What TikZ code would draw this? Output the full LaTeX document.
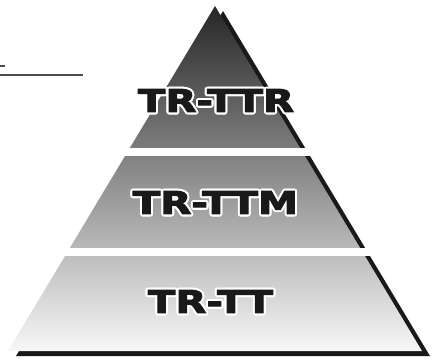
\documentclass[tikz,border=0pt]{standalone}
\usepackage{fontspec}
\usepackage{contour}
\newfontfamily\heavyfont[FakeStretch=1.3,FakeBold=3.5]{DejaVu Sans Bold}
\contourlength{2pt}
\contournumber{20}
\begin{document}
\begin{tikzpicture}[x=1pt,y=-1pt,
  shadowcol/.style={fill=black!90},
  tierlabel/.style={font=\heavyfont\fontsize{31}{31}\selectfont, text=black!90, inner sep=0pt},
  gapband/.style={fill=white},
  rulel/.style={draw=black!70, line width=1.4pt}]
\useasboundingbox (0,0) rectangle (432,360);
% stray rules at top left
\draw[rulel] (0,66) -- (5,66);
\draw[rulel] (0,75) -- (83,75);
% shadow
\fill[shadowcol] (223,11) -- (16,356) -- (430,356) -- cycle;
% main pyramid with gradient
\shade[top color=black!85, bottom color=black!3] (215,6) -- (8,351) -- (422,351) -- cycle;
% white gaps between tiers
\fill[gapband] (0,148.3) rectangle (432,155.7);
\fill[gapband] (0,247.7) rectangle (432,255.7);
% labels
\node[tierlabel] (ttr) at (216,101.5) {\contour{white}{TR-TTR}};
\node[tierlabel] (ttm) at (215.5,203.5) {\contour{white}{TR-TTM}};
\node[tierlabel] (tt) at (210.5,302.5) {\contour{white}{TR-TT}};
\end{tikzpicture}
\end{document}
